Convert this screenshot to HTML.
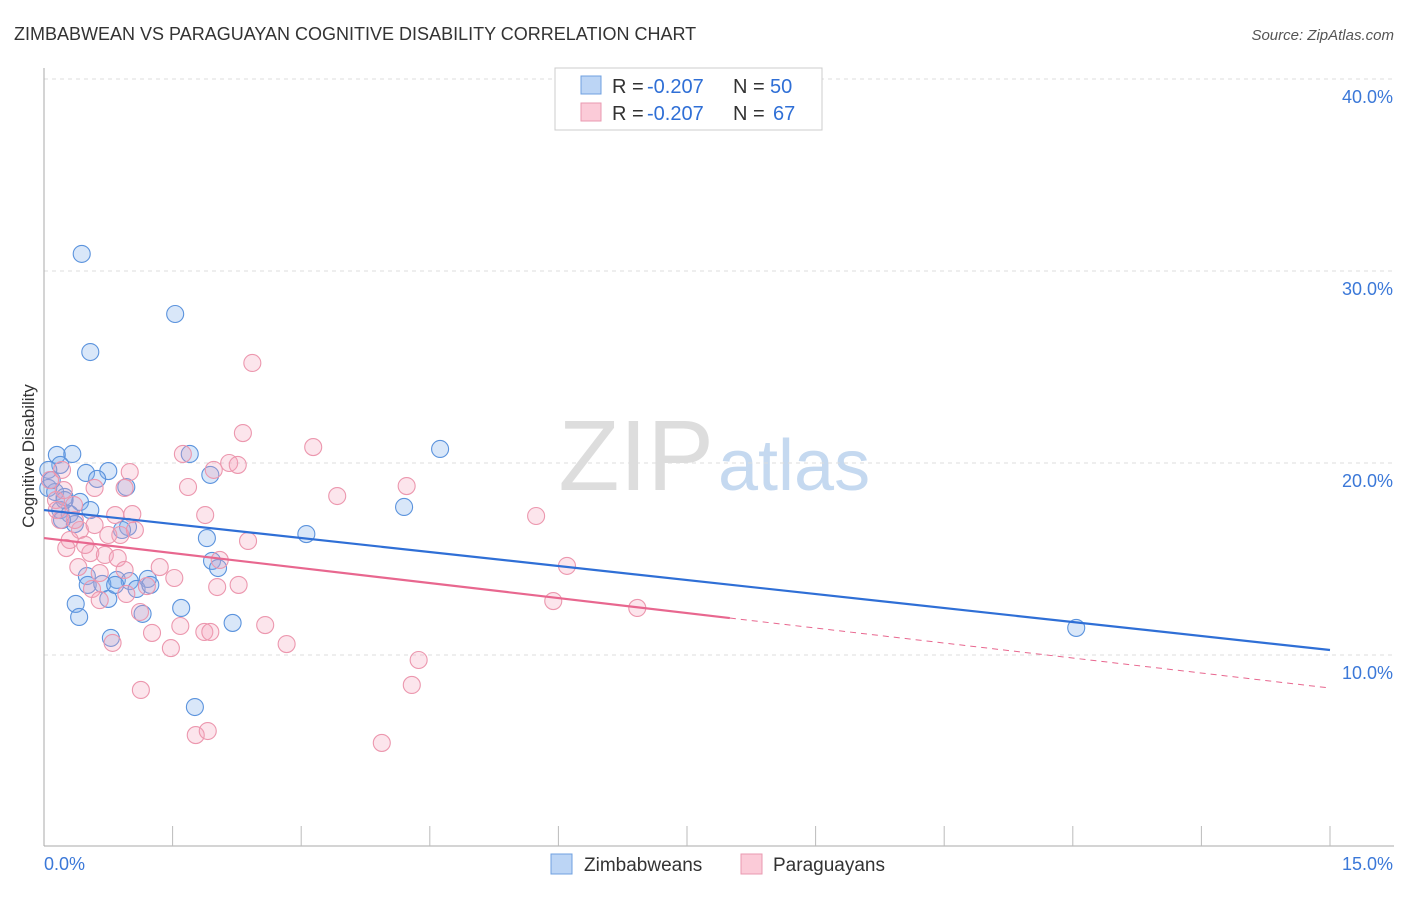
<!DOCTYPE html>
<html><head><meta charset="utf-8"><style>
body{margin:0;background:#fff;font-family:"Liberation Sans",sans-serif}
svg text{font-family:"Liberation Sans",sans-serif}
</style></head><body>
<svg id="chart" width="1406" height="892">
<text x="14" y="40" font-size="18" fill="#333">ZIMBABWEAN VS PARAGUAYAN COGNITIVE DISABILITY CORRELATION CHART</text>
<text x="1394" y="40" font-size="15" fill="#555" font-style="italic" text-anchor="end">Source: ZipAtlas.com</text>
<text x="714" y="490" font-size="100" fill="#ddd" text-anchor="end" font-family="Liberation Serif">ZIP</text>
<text x="718" y="490" font-size="72" fill="#c5d9f0">atlas</text>
<g id="grid"></g>
<g id="axes"></g>
<g id="pts"></g>
<g id="lines"></g>
<text transform="translate(34,456) rotate(-90)" font-size="17" fill="#333" text-anchor="middle">Cognitive Disability</text>
<g>
<rect x="555" y="68" width="267" height="62" fill="#fff" stroke="#ccc"/>
<rect x="581" y="76" width="20" height="18" fill="#bcd5f5" stroke="#6fa0e0"/>
<rect x="581" y="103" width="20" height="18" fill="#fbcbd8" stroke="#ea9ab0"/>
<text x="612" y="93" font-size="20" fill="#333">R =</text>
<text x="647" y="93" font-size="20" fill="#2f6fd6">-0.207</text>
<text x="733" y="93" font-size="20" fill="#333">N =</text>
<text x="770" y="93" font-size="20" fill="#2f6fd6">50</text>
<text x="612" y="120" font-size="20" fill="#333">R =</text>
<text x="647" y="120" font-size="20" fill="#2f6fd6">-0.207</text>
<text x="733" y="120" font-size="20" fill="#333">N =</text>
<text x="773" y="120" font-size="20" fill="#2f6fd6">67</text>
</g>
<g>
<rect x="551" y="854" width="21" height="20" fill="#bcd5f5" stroke="#6fa0e0"/>
<text x="584" y="871" font-size="19" fill="#333">Zimbabweans</text>
<rect x="741" y="854" width="21" height="20" fill="#fbcbd8" stroke="#ea9ab0"/>
<text x="773" y="871" font-size="19" fill="#333">Paraguayans</text>
</g>
</svg>
<script>
const xTicks=[0,15];
const yTicks=[10,20,30,40];
const zimPx=[[82,254],[175,314],[90,352],[57,455],[72,454],[60,465],[86,473],[108,471],[190,454],[210,475],[440,449],[48,488],[55,492],[65,497],[80,502],[60,510],[70,514],[126,487],[97,479],[404,507],[306,534],[207,538],[75,524],[128,527],[122,530],[212,561],[218,568],[87,576],[88,585],[117,580],[130,581],[148,579],[102,584],[137,589],[108,599],[76,604],[181,608],[79,617],[143,614],[233,623],[111,638],[1076,628],[195,707],[48,470],[52,480],[62,520],[115,585],[65,500],[90,510],[150,585]];
const parPx=[[252,363],[243,433],[313,447],[183,454],[188,487],[214,470],[229,463],[238,465],[130,472],[125,488],[95,488],[337,496],[407,486],[536,516],[205,515],[248,541],[132,514],[120,535],[108,535],[135,530],[220,560],[160,567],[174,578],[239,585],[217,587],[567,566],[553,601],[637,608],[90,553],[105,555],[118,558],[100,573],[125,570],[147,586],[140,612],[180,626],[152,633],[204,632],[210,632],[265,625],[287,644],[171,648],[113,643],[419,660],[412,685],[141,690],[196,735],[208,731],[382,743],[60,520],[70,540],[80,530],[85,545],[56,500],[64,490],[75,520],[66,548],[78,567],[92,589],[126,594],[100,600],[57,510],[74,505],[95,525],[115,515],[50,480],[62,470]];
const zimX=zimPx.map(p=>+((p[0]-44)/1286*15).toFixed(2));
const zimY=zimPx.map(p=>+((847-p[1])/19.2).toFixed(2));
const parX=parPx.map(p=>+((p[0]-44)/1286*15).toFixed(2));
const parY=parPx.map(p=>+((847-p[1])/19.2).toFixed(2));
const zimTrend=[17.55,10.26];
const parTrend=[16.09,8.28];
const parSolidEnd=8.0;

const X=v=>44+v/15*1286, Y=v=>847-v*19.2;
const NS="http://www.w3.org/2000/svg";
function mk(t,a,p){const e=document.createElementNS(NS,t);for(const k in a)e.setAttribute(k,a[k]);p.appendChild(e);return e;}
const grid=document.getElementById('grid'),axes=document.getElementById('axes'),pts=document.getElementById('pts'),lines=document.getElementById('lines');
yTicks.forEach(t=>{
 const l=mk('line',{x1:44,x2:1394,y1:Y(t),y2:Y(t),stroke:'#ddd','stroke-dasharray':'4,4'},grid);
 
 
 const tx=mk('text',{x:1393,y:Y(t)+24,'font-size':18,fill:'#3b78d8','text-anchor':'end'},grid);
 tx.textContent=t.toFixed(1)+'%';
 
 
});
const ya=mk('line',{x1:44,x2:44,y1:68,y2:846,stroke:'#aaa'},axes);


const xa=mk('line',{x1:44,x2:1394,y1:846,y2:846,stroke:'#aaa'},axes);


for(let i=1;i<=10;i++){const l=mk('line',{x1:X(i*1.5),x2:X(i*1.5),y1:826,y2:846,stroke:'#bbb'},axes);
 
 }
xTicks.forEach((t,i)=>{const tx=mk('text',{x:i?1393:44,y:870,'font-size':18,fill:'#3b78d8','text-anchor':i?'end':'start'},axes);
 tx.textContent=t.toFixed(1)+'%';
 
 });
zimX.forEach((x,i)=>{const c=mk('circle',{cx:X(x),cy:Y(zimY[i]),r:8.5,fill:'rgba(130,175,235,0.3)',stroke:'#5b93dd','stroke-width':1.1},pts);
 
 });
parX.forEach((x,i)=>{const c=mk('circle',{cx:X(x),cy:Y(parY[i]),r:8.5,fill:'rgba(245,160,185,0.28)',stroke:'#ec97ae','stroke-width':1.1},pts);
 
 });
const bl=mk('line',{x1:X(0),y1:Y(zimTrend[0]),x2:X(15),y2:Y(zimTrend[1]),stroke:'#2f6fd6','stroke-width':2.2},lines);


const pm=parTrend[0]+(parTrend[1]-parTrend[0])*parSolidEnd/15;
const pl=mk('line',{x1:X(0),y1:Y(parTrend[0]),x2:X(parSolidEnd),y2:Y(pm),stroke:'#e8678f','stroke-width':2.2},lines);


const pd=mk('line',{x1:X(parSolidEnd),y1:Y(pm),x2:X(15),y2:Y(parTrend[1]),stroke:'#e8678f','stroke-width':1,'stroke-dasharray':'6,5'},lines);


</script>
</body></html>
